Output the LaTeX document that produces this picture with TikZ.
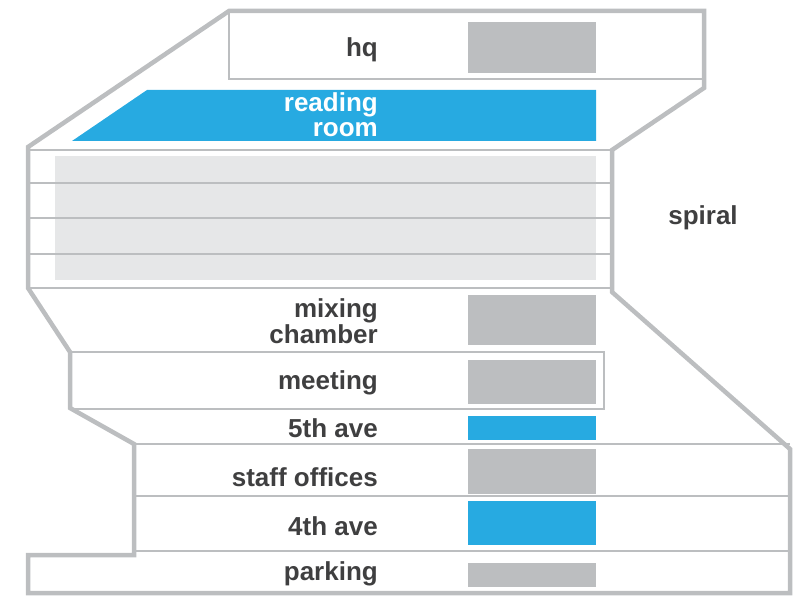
\documentclass[tikz,border=0pt]{standalone}
\usepackage{fontspec}
\setmainfont{Liberation Sans}
\usepackage{xcolor}
\usetikzlibrary{positioning}
\definecolor{wallgray}{HTML}{BCBEC0}
\definecolor{roomblue}{HTML}{27AAE1}
\definecolor{stackgray}{HTML}{E6E7E8}
\definecolor{inkgray}{HTML}{3F3F40}

\begin{document}
\begin{tikzpicture}[
  x=1pt, y=-1pt,
  wall/.style={draw=wallgray, line width=4.5pt, line join=miter},
  floorline/.style={draw=wallgray, line width=2pt},
  swatch/.style={fill=wallgray},
  roomlabel/.style={font=\bfseries\fontsize{26}{25.5}\selectfont, text=inkgray, anchor=base east, align=right, inner sep=0pt}
]
\useasboundingbox (0,0) rectangle (803,596);
% fills
\fill[roomblue] (147,90) -- (596,90) -- (596,141) -- (72,141) -- cycle;
\fill[stackgray] (55,156) rectangle (596,280);
\fill[swatch] (468,22) rectangle (596,73);
\fill[swatch] (468,295) rectangle (596,345);
\fill[swatch] (468,360) rectangle (596,404);
\fill[roomblue] (468,416) rectangle (596,440);
\fill[swatch] (468,449) rectangle (596,494);
\fill[roomblue] (468,501) rectangle (596,545);
\fill[swatch] (468,563) rectangle (596,587);
% floors
\draw[floorline] (229,11) -- (229,79) -- (704,79);
\foreach \y in {150,183,218,254,288}
  \draw[floorline] (28,\y) -- (612,\y);
\draw[floorline] (70,352) -- (604,352) -- (604,409) -- (70,409);
\foreach \y in {444,496,551}
  \draw[floorline] (134,\y) -- (790,\y);
% outer wall
\draw[wall] (229,11) -- (704,11) -- (704,88) -- (612,150) -- (612,292)
  -- (790,449) -- (790,593) -- (28,593) -- (28,555) -- (134,555)
  -- (134,444) -- (70,408) -- (70,352) -- (28,288) -- (28,147) -- cycle;
% labels
\node[roomlabel] (hq) at (378,57) {hq};
\node[roomlabel, text=white] (reading) at (378,137) {reading\\room};
\node[roomlabel, anchor=base] (spiral) at (703,225) {spiral};
\node[roomlabel] (mixing) at (378,343) {mixing\\chamber};
\node[roomlabel] (meeting) at (378,389) {meeting};
\node[roomlabel] (fifth) at (378,437) {5th ave};
\node[roomlabel] (staff) at (378,486) {staff offices};
\node[roomlabel] (fourth) at (378,535) {4th ave};
\node[roomlabel] (parking) at (378,580) {parking};
\end{tikzpicture}
\end{document}
